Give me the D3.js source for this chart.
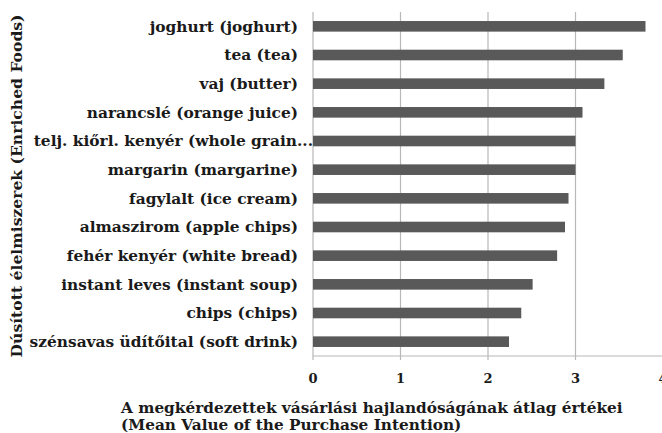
<!DOCTYPE html>
<html><head><meta charset="utf-8">
<script src="https://cdn.jsdelivr.net/npm/d3@7/dist/d3.min.js"></script>
<style>body{margin:0;background:#fff}svg{display:block}text{font-family:"DejaVu Serif",serif;font-weight:bold;fill:#1a1a1a}</style>
</head><body><svg id="c" width="662" height="433"></svg>
<script>
const categories = ["joghurt (joghurt)","tea (tea)","vaj (butter)","narancslé (orange juice)","telj. kiőrl. kenyér (whole grain...","margarin (margarine)","fagylalt (ice cream)","almaszirom (apple chips)","fehér kenyér (white bread)","instant leves (instant soup)","chips (chips)","szénsavas üdítőital (soft drink)"];
const values = [3.80,3.54,3.33,3.08,3.00,3.00,2.92,2.88,2.79,2.51,2.38,2.24];
const ticks = [0,1,2,3,4];
const xTitle = ["A megkérdezettek vásárlási hajlandóságának átlag értékei","(Mean Value of the Purchase Intention)"];
const yTitle = "Dúsított élelmiszerek (Enriched Foods)";

const svg = d3.select("#c");
const x = d3.scaleLinear().domain([0,4]).range([313,663]);
const y = d3.scaleBand().domain(categories).range([12,356]).paddingInner(0.63).paddingOuter(0.315);

// gridlines
svg.append("g").selectAll("line").data(ticks).join("line")
  .attr("x1",d=>x(d)).attr("x2",d=>x(d)).attr("y1",12).attr("y2",360)
  .attr("stroke","#b8b8b8").attr("stroke-width",1.2);
svg.append("line").attr("x1",x(0)).attr("x2",662).attr("y1",356).attr("y2",356).attr("stroke","#b8b8b8").attr("stroke-width",1.2);

svg.append("g").selectAll("rect").data(values).join("rect")
  .attr("x",x(0)).attr("y",(d,i)=>y(categories[i])).attr("width",d=>x(d)-x(0)).attr("height",y.bandwidth())
  .attr("fill","#595959");

svg.append("g").selectAll("text").data(categories).join("text")
  .attr("x",d=>d.endsWith("...")?313:298).attr("y",d=>y(d)+y.bandwidth()/2).attr("dy","0.35em")
  .attr("text-anchor","end").attr("font-size",15.4).text(d=>d);

svg.append("g").selectAll("text").data(ticks).join("text")
  .attr("x",d=>x(d)).attr("y",383).attr("text-anchor","middle").attr("font-size",13).text(d=>d);

svg.append("g").selectAll("text").data(xTitle).join("text")
  .attr("x",121).attr("y",(d,i)=>413+i*16.5).attr("font-size",15.3).text(d=>d);

svg.append("text").attr("transform","translate(22,186) rotate(-90)").attr("text-anchor","middle").attr("font-size",15.6).text(yTitle);
</script></body></html>
